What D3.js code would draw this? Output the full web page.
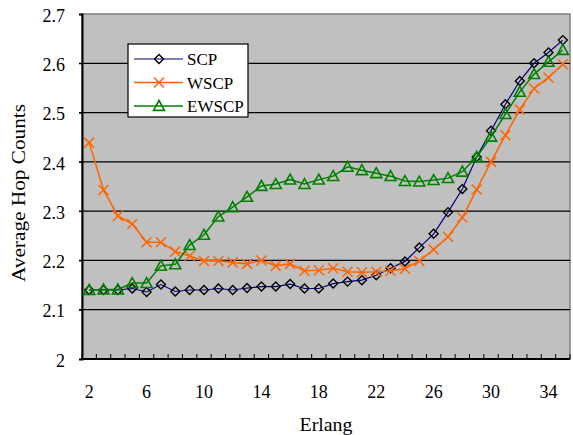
<!DOCTYPE html>
<html>
<head>
<meta charset="utf-8">
<script src="https://cdn.jsdelivr.net/npm/d3@7"></script>
<style>
  body { margin: 0; background: #fff; }
</style>
</head>
<body>
<div id="chart"></div>
<script>
// data
var erlang = [2,3,4,5,6,7,8,9,10,11,12,13,14,15,16,17,18,19,20,21,22,23,24,25,26,27,28,29,30,31,32,33,34,35];
var scp = [2.140,2.140,2.140,2.143,2.136,2.151,2.137,2.140,2.140,2.143,2.140,2.144,2.147,2.147,2.152,2.143,2.143,2.153,2.157,2.160,2.170,2.184,2.198,2.226,2.254,2.298,2.345,2.410,2.463,2.517,2.564,2.600,2.622,2.647];
var wscp = [2.439,2.343,2.290,2.274,2.237,2.237,2.218,2.209,2.199,2.199,2.196,2.193,2.200,2.189,2.193,2.179,2.180,2.184,2.177,2.176,2.177,2.179,2.183,2.199,2.222,2.248,2.287,2.344,2.400,2.454,2.506,2.549,2.571,2.598];
var ewscp = [2.140,2.141,2.141,2.154,2.154,2.189,2.192,2.231,2.252,2.289,2.308,2.329,2.351,2.355,2.364,2.355,2.364,2.371,2.390,2.383,2.377,2.371,2.361,2.360,2.363,2.367,2.380,2.410,2.451,2.497,2.542,2.578,2.603,2.627];
var yTicks = [2, 2.1, 2.2, 2.3, 2.4, 2.5, 2.6, 2.7];
var xTickLabels = [2, 6, 10, 14, 18, 22, 26, 30, 34];

var W = 573, H = 435;
var plot = {left: 82, right: 570, top: 14, bottom: 359};
var FONT = "'Liberation Serif', 'Times New Roman', 'DejaVu Serif', serif";

var svg = d3.select("#chart").append("svg")
    .attr("width", W).attr("height", H)
    .style("font-family", FONT);

var x = d3.scaleBand().domain(erlang).range([plot.left, plot.right]).padding(0);
var y = d3.scaleLinear().domain([2, 2.7]).range([plot.bottom, plot.top]);
function cx(d) { return x(d) + x.bandwidth() / 2; }

// plot area
svg.append("rect")
    .attr("x", plot.left).attr("y", plot.top)
    .attr("width", plot.right - plot.left).attr("height", plot.bottom - plot.top)
    .attr("fill", "#c0c0c0")
    .attr("stroke", "#808080").attr("stroke-width", 1.5);

// gridlines
svg.selectAll(".grid")
  .data(yTicks.slice(1, -1))
  .enter().append("line")
    .attr("x1", plot.left - 3).attr("x2", plot.right)
    .attr("y1", function(d) { return y(d); })
    .attr("y2", function(d) { return y(d); })
    .attr("stroke", "#000").attr("stroke-width", 1.2);

// y axis
svg.append("g")
    .attr("transform", "translate(" + plot.left + ",0)")
    .call(d3.axisLeft(y).tickValues(yTicks).tickSize(3).tickPadding(14)
      .tickFormat(function(d) { return String(+d.toFixed(1)); }))
    .call(function(g) {
      g.attr("font-family", null).attr("font-size", null);
      g.select(".domain").attr("stroke", "#000").attr("stroke-width", 2);
      g.selectAll(".tick line").attr("stroke", "#000");
      g.selectAll("text").attr("fill", "#000").attr("dy", "0.4em")
        .style("font-size", "18px").style("font-family", FONT);
    });

// x axis: ticks between categories, pointing inward
var bounds = erlang.map(function(d) { return x(d); }).concat([plot.right]);
svg.selectAll(".xtick")
  .data(bounds)
  .enter().append("line")
    .attr("x1", function(d) { return d; }).attr("x2", function(d) { return d; })
    .attr("y1", plot.bottom).attr("y2", plot.bottom - 5)
    .attr("stroke", "#000").attr("stroke-width", 1);

svg.append("line")
    .attr("x1", plot.left - 1).attr("x2", plot.right)
    .attr("y1", plot.bottom).attr("y2", plot.bottom)
    .attr("stroke", "#000").attr("stroke-width", 2);

svg.selectAll(".xlabel")
  .data(xTickLabels)
  .enter().append("text")
    .attr("x", function(d) { return cx(d); })
    .attr("y", plot.bottom + 39)
    .attr("text-anchor", "middle")
    .style("font-size", "18px").style("font-family", FONT)
    .text(function(d) { return d; });

// axis titles
svg.append("text")
    .attr("x", (plot.left + plot.right) / 2).attr("y", 431)
    .attr("text-anchor", "middle")
    .attr("textLength", 53).attr("lengthAdjust", "spacingAndGlyphs")
    .style("font-size", "18px").style("font-family", FONT)
    .text("Erlang");

svg.append("text")
    .attr("transform", "translate(25,193) rotate(-90)")
    .attr("text-anchor", "middle")
    .attr("textLength", 178).attr("lengthAdjust", "spacingAndGlyphs")
    .style("font-size", "18px").style("font-family", FONT)
    .text("Average Hop Counts");

// markers
function diamond(s) { return "M0," + (-s) + "L" + s + ",0L0," + s + "L" + (-s) + ",0Z"; }
function cross(s) { return "M" + (-s) + "," + (-s) + "L" + s + "," + s + "M" + (-s) + "," + s + "L" + s + "," + (-s); }
function triangle(s) { return "M0," + (-s) + "L" + s + "," + (s * 0.8) + "L" + (-s) + "," + (s * 0.8) + "Z"; }

var series = [
  {name: "SCP", values: scp, line: "#000080", lw: 1.2, mark: diamond(4.5), mstroke: "#000", mw: 1.4},
  {name: "WSCP", values: wscp, line: "#ff6600", lw: 1.6, mark: cross(5), mstroke: "#ff6600", mw: 1.5},
  {name: "EWSCP", values: ewscp, line: "#008000", lw: 1.5, mark: triangle(5.5), mstroke: "#008000", mw: 1.6}
];

var line = d3.line()
    .x(function(d, i) { return cx(erlang[i]); })
    .y(function(d) { return y(d); });

series.forEach(function(s) {
  svg.append("path")
      .datum(s.values)
      .attr("d", line)
      .attr("fill", "none")
      .attr("stroke", s.line)
      .attr("stroke-width", s.lw);
  svg.selectAll(".m-" + s.name)
    .data(s.values)
    .enter().append("path")
      .attr("transform", function(d, i) { return "translate(" + cx(erlang[i]) + "," + y(d) + ")"; })
      .attr("d", s.mark)
      .attr("fill", "none")
      .attr("stroke", s.mstroke)
      .attr("stroke-width", s.mw);
});

// legend
var legend = svg.append("g").attr("transform", "translate(128,44)");
legend.append("rect")
    .attr("width", 120).attr("height", 73)
    .attr("fill", "#fff").attr("stroke", "#000").attr("stroke-width", 1.2);

series.forEach(function(s, i) {
  var ly = 15 + i * 23.5;
  legend.append("line")
      .attr("x1", 6).attr("x2", 55)
      .attr("y1", ly).attr("y2", ly)
      .attr("stroke", s.line).attr("stroke-width", s.lw);
  legend.append("path")
      .attr("transform", "translate(31," + ly + ")")
      .attr("d", s.mark)
      .attr("fill", "none")
      .attr("stroke", s.mstroke)
      .attr("stroke-width", s.mw);
  legend.append("text")
      .attr("x", 59).attr("y", ly + 6)
      .style("font-size", "17px").style("font-family", FONT)
      .text(s.name);
});
</script>
</body>
</html>
